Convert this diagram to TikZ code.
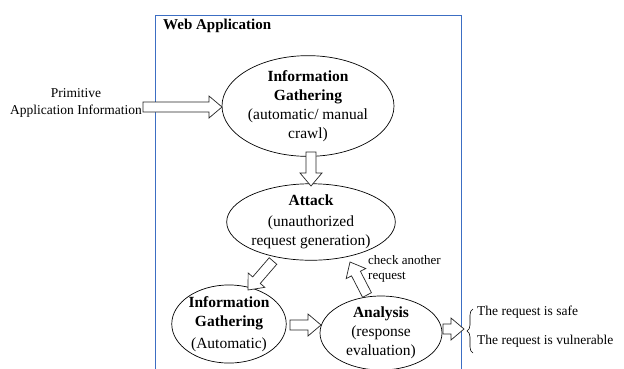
\documentclass[tikz,border=0pt]{standalone}
\usepackage{fontspec}
\setmainfont{Liberation Serif}
\usetikzlibrary{calc,shapes.geometric,decorations.pathreplacing}
\definecolor{boxblue}{RGB}{60,110,195}
\newcommand\blockarrow[2]{%
  \coordinate (ba-h) at ($(#2)!13pt!(#1)$);
  \draw[barrow] ($(#1)!5pt!90:(#2)$) -- ($(ba-h)!5pt!90:(#2)$) -- ($(ba-h)!11pt!90:(#2)$) -- (#2)
    -- ($(ba-h)!11pt!-90:(#2)$) -- ($(ba-h)!5pt!-90:(#2)$) -- ($(#1)!5pt!-90:(#2)$) -- cycle;}
\begin{document}
\begin{tikzpicture}[x=1pt,y=-1pt,
  barrow/.style={draw=black!85,line width=0.7pt,fill=white,line join=miter},
  ell/.style={ellipse,draw,line width=0.7pt,inner sep=0pt,align=center,
    font=\fontsize{15.5}{19}\selectfont},
  outtext/.style={font=\fontsize{13.5}{17}\selectfont,inner sep=0pt}]
\clip (0,0) rectangle (624,368);
\fill[white] (0,0) rectangle (624,368);
\draw[boxblue,line width=1pt] (155,380) -- (155,15) -- (461,15) -- (461,380);
\node[anchor=west,inner sep=0pt,font=\fontsize{15}{18}\selectfont\bfseries] (title) at (163,26) {Web Application};

\node[ell,minimum width=172pt,minimum height=96pt] (ig1) at (308,106)
  {\textbf{Information}\\\textbf{Gathering}\\(automatic/ manual\\crawl)};
\node[ell,minimum width=168pt,minimum height=71pt] (att) at (311,222)
  {\textbf{Attack}\\[2pt](unauthorized\\request generation)};
\node[ell,minimum width=108pt,minimum height=66pt] (ig2) at (229,324)
  {\textbf{Information}\\\textbf{Gathering}\\[3pt](Automatic)};
\node[ell,minimum width=122pt,minimum height=74pt] (ana) at (381,333)
  {\textbf{Analysis}\\(response\\evaluation)};

\node[outtext,align=center] (prim) at (76,103) {Primitive\\Application Information};
\node[outtext,anchor=west,align=left,font=\fontsize{13}{15}\selectfont] (check) at (368,269) {check another\\request};
\node[outtext,anchor=west] (safe) at (477,312) {The request is safe};
\node[outtext,anchor=west] (vuln) at (477,341) {The request is vulnerable};

\coordinate (p1) at (143,107); \coordinate (p2) at (222,107);
\coordinate (d1) at (311,152); \coordinate (d2) at (311,186);
\coordinate (a1) at (273,261); \coordinate (a2) at (248,290);
\coordinate (b1) at (367,295); \coordinate (b2) at (350,262);
\coordinate (h1) at (290,325); \coordinate (h2) at (321,325);
\coordinate (o1) at (443,329); \coordinate (o2) at (464,329);
\blockarrow{p1}{p2}
\blockarrow{d1}{d2}
\blockarrow{a1}{a2}
\blockarrow{b1}{b2}
\blockarrow{h1}{h2}
\blockarrow{o1}{o2}

\coordinate (brb) at (473,353); \coordinate (brt) at (473,309);
\draw[line width=0.6pt,decorate,decoration={brace,amplitude=6pt}] (brb) -- (brt);
\end{tikzpicture}
\end{document}
